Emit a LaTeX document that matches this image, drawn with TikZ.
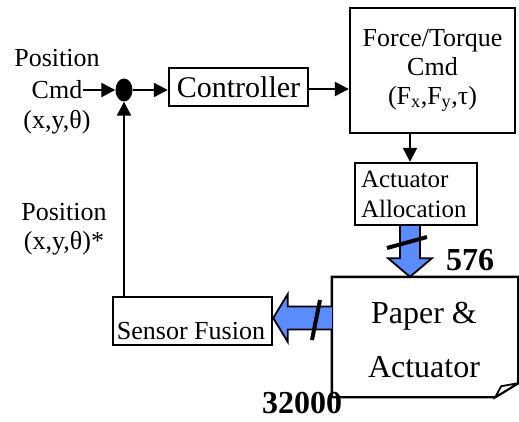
\documentclass[tikz,border=0pt]{standalone}
\usepackage{fontspec}
\setmainfont{Liberation Serif}
\usetikzlibrary{arrows.meta,shapes.geometric,calc}
\definecolor{arrowblue}{RGB}{90,140,255}
\tikzset{
  box/.style={draw, line width=2.4pt, inner sep=0pt},
  lbl/.style={inner sep=1pt, font=\fontsize{26}{29}\selectfont, align=center},
  arr/.style={-{Triangle[length=14pt,width=14pt]}, line width=2.2pt},
  fat/.style={fill=arrowblue, draw=black, line width=1.8pt, line join=miter},
  slash/.style={line width=4pt},
  num/.style={inner sep=0pt, font=\fontsize{32}{32}\selectfont\bfseries}
}
\begin{document}
\begin{tikzpicture}[x=1pt,y=-1pt]
\useasboundingbox (0,0) rectangle (519,421);
% paper & actuator shape node (outline drawn first)
\node[minimum width=186pt, minimum height=120pt, inner sep=0pt] (paper) at (425,337) {};
\draw[line width=2.4pt, line join=miter, fill=white]
  (paper.north west) -- (paper.north east) -- ($(paper.south east)+(0,-14)$)
  -- ($(paper.south east)+(-23,0)$) -- (paper.south west) -- cycle;
\draw[line width=1.8pt, fill=white, line join=miter]
  ($(paper.south east)+(-23,0)$) -- ($(paper.south east)+(-17,-11)$) -- ($(paper.south east)+(0,-14)$) -- cycle;
\node[inner sep=0pt, align=center, font=\fontsize{32}{54}\selectfont] (papertxt) at (424,340) {Paper \&\\Actuator};
% left input labels
\node[lbl] (pos1) at (57,58) {Position};
\node[lbl] (cmd) at (57,90) {Cmd};
\node[lbl] (xyt) at (57,122) {(x,y,θ)};
% summing junction
\node[ellipse, fill=black, minimum width=17pt, minimum height=23pt, inner sep=0pt] (sum) at (124,90) {};
% controller
\node[box, minimum width=139pt, minimum height=38pt, font=\fontsize{30}{32}\selectfont] (ctrl) at (238.5,87) {Controller};
% force/torque
\node[box, minimum width=165pt, minimum height=125pt, align=center, font=\fontsize{26}{29}\selectfont] (force) at (432.5,70.5) {Force/Torque\\Cmd\\(F\textsubscript{x},F\textsubscript{y},τ)};
% actuator allocation
\node[box, text width=110pt, inner xsep=6pt, minimum height=62pt, align=left, font=\fontsize{25}{30}\selectfont] (alloc) at (416,194) {Actuator\\Allocation};
% sensor fusion
\node[box, minimum width=159pt, minimum height=48pt] (sensor) at (192.5,321) {};
\node[inner sep=0pt, font=\fontsize{26}{29}\selectfont] (sensortxt) at (191,331) {Sensor Fusion};
% feedback labels
\node[lbl] (pos2) at (64,212) {Position};
\node[lbl] (xyt2) at (64,243) {(x,y,θ)*};
% numbers
\node[num] (n576) at (470,260) {576};
\node[num] (n32000) at (302,403) {32000};

% connectors
\draw[arr] (cmd.east |- sum.west) -- (sum.west);
\draw[arr] (sum.east) -- (sum.east -| ctrl.west);
\coordinate (cf) at (0,89);
\draw[arr] (cf -| ctrl.east) -- (cf -| force.west);
\coordinate (fa) at (410,0);
\draw[arr] (fa |- force.south) -- (fa |- alloc.north);
\draw[arr] (sum.south |- sensor.north) -- (sum.south);

% fat blue arrow down
\draw[fat] ($(fa |- alloc.south)+(-10,0)$) -- ++(0,32) -- ++(-12,0) -- (fa |- paper.north)
  -- ($(fa |- alloc.south)+(22,32)$) -- ++(-12,0) -- ($(fa |- alloc.south)+(10,0)$);
\draw[slash] (387,248) -- (427,237);

% fat blue arrow left
\coordinate (la) at (0,318);
\draw[fat] ($(la -| paper.west)+(0,-11.5)$) -- ++(-44,0) -- ++(0,-12.5) -- (la -| sensor.east)
  -- ($(la -| paper.west)+(-44,24)$) -- ++(0,-12.5) -- ($(la -| paper.west)+(0,11.5)$);
\draw[slash] (312,340) -- (320,300);
\end{tikzpicture}
\end{document}
